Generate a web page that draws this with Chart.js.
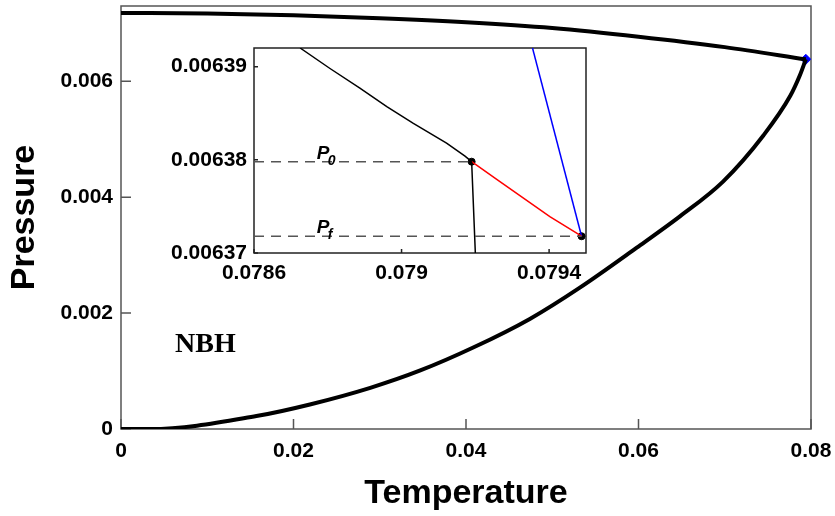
<!DOCTYPE html>
<html lang="en">
<head>
<meta charset="UTF-8">
<title>Pressure vs Temperature</title>
<style>
  html, body { margin: 0; padding: 0; background: #fff; }
  .wrap { position: relative; width: 835px; height: 516px; }
  #main { position: absolute; left: 0; top: 0; }
  #inset { position: absolute; left: 160px; top: 40px; }
</style>
<script src="https://cdn.jsdelivr.net/npm/chart.js"></script>
</head>
<body>
<div class="wrap">
  <canvas id="main" width="835" height="516"></canvas>
  <canvas id="inset" width="440" height="250"></canvas>
</div>
<script>
// ---- main diagram: coexistence curves ----
const upperT = [0, 0.01, 0.02, 0.03, 0.04, 0.05, 0.06, 0.07, 0.0794];
const upperP = [0.00718, 0.00717, 0.00714, 0.00709, 0.00702, 0.00692, 0.00677, 0.00659, 0.00638];

const lowerT = [0, 0.0034, 0.0157, 0.0219, 0.0289, 0.0347, 0.0409, 0.0474, 0.0532, 0.0598, 0.0648, 0.0698, 0.0745, 0.0776, 0.0787, 0.0794];
const lowerP = [0, 0, 0.000223, 0.000423, 0.00071, 0.00101, 0.00141, 0.0019, 0.00244, 0.00313, 0.00367, 0.00427, 0.00507, 0.00575, 0.00610, 0.00638];

const critT = [0.0794];
const critP = [0.00638];

const mainXTicks = [0, 0.02, 0.04, 0.06, 0.08];
const mainXLabels = ['0', '0.02', '0.04', '0.06', '0.08'];
const mainYTicks = [0, 0.002, 0.004, 0.006];
const mainYLabels = ['0', '0.002', '0.004', '0.006'];

// ---- inset: zoom near the end point ----
const blackT = [0.078725, 0.078806, 0.078887, 0.07896, 0.079032, 0.079122, 0.079172, 0.07919];
const blackP = [0.006392, 0.0063898, 0.0063877, 0.0063857, 0.0063839, 0.0063818, 0.0063804, 0.0063798];

const dropT = [0.07919, 0.0792, 0.079201];
const dropP = [0.0063798, 0.00637, 0.0063695];

const redT = [0.07919, 0.079258, 0.079402, 0.079488];
const redP = [0.0063798, 0.0063779, 0.0063739, 0.0063718];

const blueT = [0.079355, 0.079488];
const blueP = [0.006392, 0.0063718];

const dotT = [0.07919, 0.079488];
const dotP = [0.0063798, 0.0063718];

const insetXTicks = [0.0786, 0.079, 0.0794];
const insetXLabels = ['0.0786', '0.079', '0.0794'];
const insetYTicks = [0.00637, 0.00638, 0.00639];
const insetYLabels = ['0.00637', '0.00638', '0.00639'];

const SANS = "'Liberation Sans', Arial, sans-serif";
const SERIF = "'Liberation Serif', 'Times New Roman', serif";

const pts = (xs, ys) => xs.map((x, i) => ({ x: x, y: ys[i] }));

// frame around the plot area plus inward tick marks
function axisDecor(tickLen, color, lw) {
  return {
    id: 'axisDecor',
    beforeDatasetsDraw(chart) {
      const { ctx, chartArea: a, scales: { x, y } } = chart;
      ctx.save();
      ctx.fillStyle = '#fff';
      ctx.fillRect(a.left, a.top, a.right - a.left, a.bottom - a.top);
      ctx.strokeStyle = color;
      ctx.lineWidth = lw;
      ctx.strokeRect(a.left, a.top, a.right - a.left, a.bottom - a.top);
      ctx.beginPath();
      x.ticks.forEach(t => {
        const px = x.getPixelForValue(t.value);
        ctx.moveTo(px, a.bottom);
        ctx.lineTo(px, a.bottom - tickLen);
      });
      y.ticks.forEach(t => {
        const py = y.getPixelForValue(t.value);
        ctx.moveTo(a.left, py);
        ctx.lineTo(a.left + tickLen, py);
      });
      ctx.stroke();
      ctx.restore();
    }
  };
}

function fixedTicks(values) {
  return scale => { scale.ticks = values.map(v => ({ value: v })); };
}

// fixed axis box, no extra room for overhanging labels
function fixedBox(prop, size) {
  return s => {
    s[prop] = size;
    s.paddingTop = s.paddingBottom = s.paddingLeft = s.paddingRight = 0;
  };
}

const tickFont = { family: SANS, size: 21, weight: 'bold' };

// main chart
new Chart(document.getElementById('main'), {
  type: 'scatter',
  data: {
    datasets: [
      { data: pts(upperT, upperP), showLine: true, borderColor: '#000', borderWidth: 4, pointRadius: 0, cubicInterpolationMode: 'monotone' },
      { data: pts(lowerT, lowerP), showLine: true, borderColor: '#000', borderWidth: 4, pointRadius: 0, cubicInterpolationMode: 'monotone' },
      { data: pts(critT, critP), pointStyle: 'rectRot', pointRadius: 5, backgroundColor: '#0000ff', borderColor: '#0000ff' }
    ]
  },
  options: {
    responsive: false,
    animation: false,
    layout: { padding: { top: 3, right: 24, bottom: 0, left: 0 } },
    plugins: { legend: { display: false }, tooltip: { enabled: false } },
    scales: {
      x: {
        type: 'linear', min: 0, max: 0.08,
        afterBuildTicks: fixedTicks(mainXTicks),
        afterFit: fixedBox('height', 87),
        grid: { display: false, drawTicks: false },
        border: { display: false },
        ticks: { padding: 10, color: '#000', font: tickFont, maxRotation: 0, autoSkip: false,
                 callback: (v, i) => mainXLabels[i] },
        title: { display: true, text: 'Temperature', color: '#000', padding: { top: 0, bottom: 2 },
                 font: { family: SANS, size: 34, weight: 'bold' } }
      },
      y: {
        type: 'linear', min: 0, max: 0.0073,
        afterBuildTicks: fixedTicks(mainYTicks),
        afterFit: fixedBox('width', 121),
        grid: { display: false, drawTicks: false },
        border: { display: false },
        ticks: { padding: 8, color: '#000', font: tickFont, autoSkip: false,
                 callback: (v, i) => mainYLabels[i] },
        title: { display: true, text: 'Pressure', color: '#000', padding: { top: 4, bottom: 0 },
                 font: { family: SANS, size: 34, weight: 'bold' } }
      }
    }
  },
  plugins: [axisDecor(10, '#555', 1.5), {
    id: 'regionLabel',
    afterDraw(chart) {
      const { ctx } = chart;
      ctx.save();
      ctx.fillStyle = '#000';
      ctx.font = 'bold 28px ' + SERIF;
      ctx.textBaseline = 'alphabetic';
      ctx.fillText('NBH', 175, 352);
      ctx.restore();
    }
  }]
});

// inset chart
new Chart(document.getElementById('inset'), {
  type: 'scatter',
  data: {
    datasets: [
      { data: pts([0.0786, dotT[0]], [dotP[0], dotP[0]]), showLine: true, borderColor: '#555', borderWidth: 1.5, borderDash: [10, 7], pointRadius: 0 },
      { data: pts([0.0786, dotT[1]], [dotP[1], dotP[1]]), showLine: true, borderColor: '#555', borderWidth: 1.5, borderDash: [10, 7], pointRadius: 0 },
      { data: pts(blackT, blackP), showLine: true, borderColor: '#000', borderWidth: 1.5, pointRadius: 0 },
      { data: pts(dropT, dropP), showLine: true, borderColor: '#000', borderWidth: 1.5, pointRadius: 0 },
      { data: pts(redT, redP), showLine: true, borderColor: '#ff0000', borderWidth: 1.5, pointRadius: 0 },
      { data: pts(blueT, blueP), showLine: true, borderColor: '#0000ff', borderWidth: 1.5, pointRadius: 0 },
      { data: pts(dotT, dotP), pointRadius: 3.5, backgroundColor: '#000', borderColor: '#000', clip: 6 }
    ]
  },
  options: {
    responsive: false,
    animation: false,
    layout: { padding: { top: 8, right: 14, bottom: 0, left: 0 } },
    plugins: { legend: { display: false }, tooltip: { enabled: false } },
    scales: {
      x: {
        type: 'linear', min: 0.0786, max: 0.0795,
        afterBuildTicks: fixedTicks(insetXTicks),
        afterFit: fixedBox('height', 37),
        grid: { display: false, drawTicks: false },
        border: { display: false },
        ticks: { padding: 8, color: '#000', font: tickFont, maxRotation: 0, autoSkip: false,
                 callback: (v, i) => insetXLabels[i] }
      },
      y: {
        type: 'linear', min: 0.00637, max: 0.006392,
        afterBuildTicks: fixedTicks(insetYTicks),
        afterFit: fixedBox('width', 94),
        grid: { display: false, drawTicks: false },
        border: { display: false },
        ticks: { padding: 7, color: '#000', font: tickFont, autoSkip: false,
                 callback: (v, i) => insetYLabels[i] }
      }
    }
  },
  plugins: [axisDecor(4, '#222', 1.5), {
    id: 'pressureLabels',
    afterDatasetsDraw(chart) {
      const { ctx, scales: { x, y } } = chart;
      const px = x.getPixelForValue(0.07877);
      const marks = [['0', dotP[0]], ['f', dotP[1]]];
      ctx.save();
      ctx.fillStyle = '#000';
      ctx.textBaseline = 'alphabetic';
      marks.forEach(([sub, p]) => {
        const py = y.getPixelForValue(p);
        ctx.font = 'italic bold 19px ' + SANS;
        ctx.fillText('P', px, py - 3);
        ctx.font = 'italic bold 14px ' + SANS;
        ctx.fillText(sub, px + 11, py + 3);
      });
      ctx.restore();
    }
  }]
});
</script>
</body>
</html>
